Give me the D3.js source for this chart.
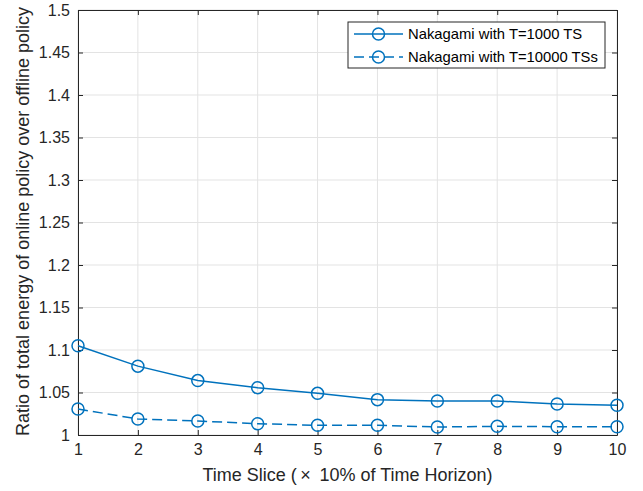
<!DOCTYPE html>
<html lang="en">
  <head>
    <meta charset="utf-8">
    <title></title>
    <script src="https://cdn.jsdelivr.net/npm/d3@7"></script>
    <style>
      body { margin: 0; background: #fff; }
      svg { font-family: "Liberation Sans", Arial, sans-serif; }
      .grid line { stroke: #e3e3e3; stroke-width: 1; }
      .axis path, .axis line { stroke: #262626; }
      .axis text { fill: #262626; font-size: 16px; }
      .line { fill: none; stroke: #0072bd; stroke-width: 1.5; }
      .dot { fill: none; stroke: #0072bd; stroke-width: 1.5; }
    </style>
  </head>
  <body>
    <script>
      var w = 643, h = 491;
      var margin = {left: 78, right: 26, top: 10, bottom: 56};

      var slices = [1, 2, 3, 4, 5, 6, 7, 8, 9, 10];
      var t1000 = [1.105, 1.081, 1.064, 1.0557, 1.049, 1.0416, 1.040, 1.040, 1.0365, 1.035];
      var t10000 = [1.0306, 1.0188, 1.0165, 1.0133, 1.0114, 1.0114, 1.0094, 1.0102, 1.0098, 1.0098];
      var yTicks = [1, 1.05, 1.1, 1.15, 1.2, 1.25, 1.3, 1.35, 1.4, 1.45, 1.5];
      var legendLabels = ["Nakagami with T=1000 TS", "Nakagami with T=10000 TSs"];

      var xScale = d3.scaleLinear().domain([1, 10]).range([margin.left, w - margin.right]);
      var yScale = d3.scaleLinear().domain([1, 1.5]).range([h - margin.bottom, margin.top]);

      var svg = d3.select("body").append("svg")
                  .attr("width", w)
                  .attr("height", h);

      // grid
      var grid = svg.append("g").attr("class", "grid");
      grid.selectAll(".gx").data(slices).enter().append("line")
          .attr("x1", function(d) { return xScale(d); })
          .attr("x2", function(d) { return xScale(d); })
          .attr("y1", yScale(1)).attr("y2", yScale(1.5));
      grid.selectAll(".gy").data(yTicks).enter().append("line")
          .attr("y1", function(d) { return yScale(d); })
          .attr("y2", function(d) { return yScale(d); })
          .attr("x1", xScale(1)).attr("x2", xScale(10));

      // axes, ticks pointing inward, box on
      var fmt = function(d) { return String(+d.toFixed(2)); };
      svg.append("g").attr("class", "axis")
         .attr("transform", "translate(0," + yScale(1) + ")")
         .call(d3.axisBottom(xScale).tickValues(slices).tickSizeInner(-5).tickSizeOuter(0).tickPadding(9).tickFormat(d3.format("d")));
      svg.append("g").attr("class", "axis")
         .attr("transform", "translate(0," + yScale(1.5) + ")")
         .call(d3.axisTop(xScale).tickValues(slices).tickSizeInner(-5).tickSizeOuter(0).tickFormat(""));
      svg.append("g").attr("class", "axis")
         .attr("transform", "translate(" + xScale(1) + ",0)")
         .call(d3.axisLeft(yScale).tickValues(yTicks).tickSizeInner(-5).tickSizeOuter(0).tickPadding(8).tickFormat(fmt));
      svg.append("g").attr("class", "axis")
         .attr("transform", "translate(" + xScale(10) + ",0)")
         .call(d3.axisRight(yScale).tickValues(yTicks).tickSizeInner(-5).tickSizeOuter(0).tickFormat(""));

      // axis titles
      svg.append("text")
         .attr("x", (xScale(1) + xScale(10)) / 2)
         .attr("y", h - 10)
         .attr("text-anchor", "middle")
         .attr("fill", "#262626")
         .attr("font-size", "18px")
         .attr("xml:space", "preserve")
         .text("Time Slice (\u2009\u00d7\u2009 10% of Time Horizon)");
      svg.append("text")
         .attr("transform", "translate(29," + ((yScale(1) + yScale(1.5)) / 2 - 1) + ") rotate(-90)")
         .attr("text-anchor", "middle")
         .attr("fill", "#262626")
         .attr("font-size", "18px")
         .text("Ratio of total energy of online policy over offline policy");

      // series
      var series = [
        {values: t1000, dash: null},
        {values: t10000, dash: "10,5"}
      ];
      var line = d3.line()
                   .x(function(d, i) { return xScale(slices[i]); })
                   .y(function(d) { return yScale(d); });

      series.forEach(function(s) {
        svg.append("path")
           .datum(s.values)
           .attr("class", "line")
           .attr("stroke-dasharray", s.dash)
           .attr("d", line);
        svg.selectAll(null).data(s.values).enter().append("circle")
           .attr("class", "dot")
           .attr("cx", function(d, i) { return xScale(slices[i]); })
           .attr("cy", function(d) { return yScale(d); })
           .attr("r", 6);
      });

      // legend
      var lg = svg.append("g").attr("transform", "translate(348,22)");
      lg.append("rect")
        .attr("width", 257).attr("height", 46)
        .attr("fill", "#fff").attr("stroke", "#262626").attr("stroke-width", 1);
      legendLabels.forEach(function(label, i) {
        var y = 12 + i * 23;
        lg.append("line")
          .attr("class", "line")
          .attr("x1", 6).attr("x2", 55)
          .attr("y1", y).attr("y2", y)
          .attr("stroke-dasharray", series[i].dash);
        lg.append("circle").attr("class", "dot").attr("cx", 30.5).attr("cy", y).attr("r", 6);
        lg.append("text")
          .attr("x", 60).attr("y", y + 5)
          .attr("fill", "#000")
          .attr("font-size", "14.8px")
          .text(label);
      });
    </script>
  </body>
</html>
